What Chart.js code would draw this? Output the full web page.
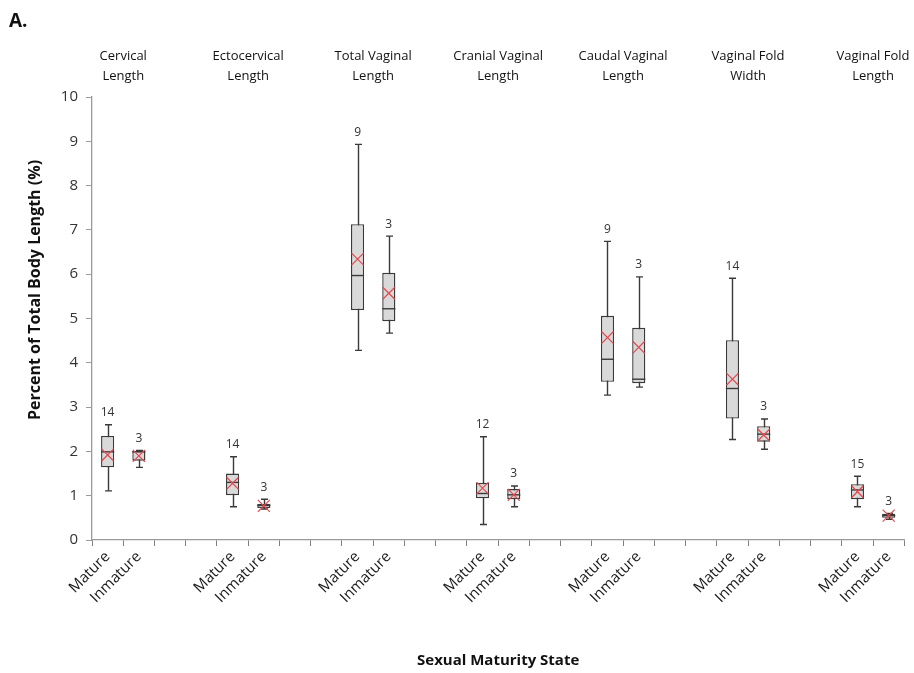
<!DOCTYPE html>
<html>
<head>
<meta charset="utf-8">
<script src="https://cdn.jsdelivr.net/npm/chart.js@4.4.0/dist/chart.umd.min.js"></script>
<style>
  html, body { margin: 0; padding: 0; background: #fff; }
  #wrap { width: 914px; height: 673px; }
</style>
</head>
<body>
<div id="wrap"><canvas id="boxChart" width="914" height="673"></canvas></div>
<script>
// measurements, each group has a Mature and an Inmature box
const groupTitles = [
  ['Cervical', 'Length'],
  ['Ectocervical', 'Length'],
  ['Total Vaginal', 'Length'],
  ['Cranial Vaginal', 'Length'],
  ['Caudal Vaginal', 'Length'],
  ['Vaginal Fold', 'Width'],
  ['Vaginal Fold', 'Length']
];
const maturityLabels = ['Mature', 'Inmature'];

// per box: M, I, M, I ...
const whiskerLow  = [1.11, 1.64, 0.75, 0.70, 4.28, 4.67, 0.35, 0.75, 3.27, 3.45, 2.27, 2.05, 0.75, 0.47];
const q1          = [1.64, 1.79, 1.01, 0.72, 5.19, 4.94, 0.94, 0.92, 3.57, 3.54, 2.74, 2.22, 0.92, 0.50];
const median      = [1.99, 1.99, 1.30, 0.78, 5.97, 5.22, 1.05, 1.02, 4.08, 3.63, 3.42, 2.39, 1.13, 0.55];
const q3          = [2.35, 2.01, 1.50, 0.81, 7.13, 6.03, 1.29, 1.15, 5.06, 4.79, 4.51, 2.57, 1.26, 0.59];
const whiskerHigh = [2.60, 2.02, 1.88, 0.92, 8.93, 6.86, 2.33, 1.22, 6.74, 5.94, 5.91, 2.73, 1.44, 0.60];
const meanVals    = [1.92, 1.90, 1.28, 0.77, 6.34, 5.57, 1.17, 1.02, 4.57, 4.35, 3.63, 2.37, 1.09, 0.55];
const nCounts     = [14, 3, 14, 3, 9, 3, 12, 3, 9, 3, 14, 3, 15, 3];

const yTicks = [0, 1, 2, 3, 4, 5, 6, 7, 8, 9, 10];

// category slots: two boxes then two empty slots between groups
const slotsPerGroup = 4;
const nSlots = groupTitles.length * slotsPerGroup - 2;
const labels = [];
const slotOfBox = [];
for (let s = 0; s < nSlots; s++) {
  const k = s % slotsPerGroup;
  labels.push(k < 2 ? maturityLabels[k] : '');
}
for (let i = 0; i < median.length; i++) {
  slotOfBox.push(Math.floor(i / 2) * slotsPerGroup + (i % 2));
}
function toSlots(fn) {
  const arr = new Array(nSlots).fill(null);
  slotOfBox.forEach((s, i) => { arr[s] = fn(i); });
  return arr;
}

const FONT = '"Open Sans", sans-serif';
const dark = '#3a3a3a';

const boxExtras = {
  id: 'boxExtras',
  beforeDatasetsDraw(chart) {
    const { ctx, scales: { x, y } } = chart;
    ctx.save();
    ctx.strokeStyle = dark;
    ctx.lineWidth = 1.4;
    slotOfBox.forEach((s, i) => {
      const px = Math.round(x.getPixelForValue(s)) + 0.5;
      const cap = 3.5;
      ctx.beginPath();
      ctx.moveTo(px, y.getPixelForValue(whiskerHigh[i]));
      ctx.lineTo(px, y.getPixelForValue(whiskerLow[i]));
      ctx.moveTo(px - cap, y.getPixelForValue(whiskerHigh[i]));
      ctx.lineTo(px + cap, y.getPixelForValue(whiskerHigh[i]));
      ctx.moveTo(px - cap, y.getPixelForValue(whiskerLow[i]));
      ctx.lineTo(px + cap, y.getPixelForValue(whiskerLow[i]));
      ctx.stroke();
    });
    ctx.restore();
  },
  afterDatasetDraw(chart, args) {
    if (args.index !== 0) return;
    const { ctx, scales: { x, y } } = chart;
    const meta = chart.getDatasetMeta(0);
    ctx.save();
    ctx.strokeStyle = dark;
    ctx.lineWidth = 1.4;
    slotOfBox.forEach((s, i) => {
      const bar = meta.data[s];
      const half = bar.width / 2;
      const py = y.getPixelForValue(median[i]);
      ctx.beginPath();
      ctx.moveTo(bar.x - half, py);
      ctx.lineTo(bar.x + half, py);
      ctx.stroke();
    });
    // sample sizes above the whiskers
    ctx.fillStyle = '#333';
    ctx.font = '12px ' + FONT;
    ctx.textAlign = 'center';
    ctx.textBaseline = 'bottom';
    slotOfBox.forEach((s, i) => {
      ctx.fillText(String(nCounts[i]), x.getPixelForValue(s), y.getPixelForValue(whiskerHigh[i]) - 6);
    });
    ctx.restore();
  },
  afterDraw(chart) {
    const { ctx, scales: { x, y } } = chart;
    ctx.save();
    ctx.fillStyle = '#111';
    ctx.textAlign = 'center';
    ctx.textBaseline = 'middle';
    ctx.font = '13px ' + FONT;
    groupTitles.forEach((t, g) => {
      const cx = (x.getPixelForValue(g * slotsPerGroup) + x.getPixelForValue(g * slotsPerGroup + 1)) / 2;
      ctx.fillText(t[0], cx, 56);
      ctx.fillText(t[1], cx, 76);
    });
    ctx.font = 'bold 15px ' + FONT;
    ctx.fillText('Sexual Maturity State', (x.left + x.right) / 2, 661);
    ctx.save();
    ctx.translate(35, 290);
    ctx.rotate(-Math.PI / 2);
    ctx.font = 'bold 16px ' + FONT;
    ctx.fillText('Percent of Total Body Length (%)', 0, 0);
    ctx.restore();
    ctx.textAlign = 'left';
    ctx.font = 'bold 19px ' + FONT;
    ctx.fillText('A.', 9, 22);
    ctx.restore();
  }
};

const ctx = document.getElementById('boxChart').getContext('2d');
const boxChart = new Chart(ctx, {
  type: 'bar',
  data: {
    labels: labels,
    datasets: [{
      label: 'Box',
      order: 2,
      data: toSlots(i => [q1[i], q3[i]]),
      backgroundColor: '#d9d9d9',
      borderColor: dark,
      borderWidth: 1.4,
      borderSkipped: false,
      barPercentage: 0.42,
      categoryPercentage: 1.0
    }, {
      type: 'line',
      label: 'Mean',
      order: 1,
      data: toSlots(i => meanVals[i]),
      showLine: false,
      pointStyle: 'crossRot',
      pointRadius: 8.5,
      pointBorderColor: '#e5484d',
      pointBorderWidth: 1.2,
      spanGaps: false
    }]
  },
  options: {
    responsive: false,
    animation: false,
    layout: { padding: { top: 97, right: 8, left: 0, bottom: 0 } },
    plugins: { legend: { display: false }, tooltip: { enabled: false } },
    scales: {
      x: {
        offset: true,
        grid: { offset: true, drawOnChartArea: false, color: '#808080', tickLength: 6, tickColor: '#808080' },
        border: { color: '#9a9a9a', width: 1.3 },
        ticks: {
          autoSkip: false, minRotation: 45, maxRotation: 45, padding: 2,
          color: '#1a1a1a', font: { family: FONT, size: 15 }
        },
        afterFit(scale) { scale.height = 133; }
      },
      y: {
        min: 0, max: 10,
        afterBuildTicks(scale) { scale.ticks = yTicks.map(v => ({ value: v })); },
        grid: { drawOnChartArea: false, tickLength: 6, color: '#9a9a9a' },
        border: { color: '#9a9a9a', width: 1.3 },
        ticks: { padding: 8, color: '#333', font: { family: FONT, size: 15 } },
        afterFit(scale) { scale.width = 92; }
      }
    }
  },
  plugins: [boxExtras]
});
</script>
</body>
</html>
